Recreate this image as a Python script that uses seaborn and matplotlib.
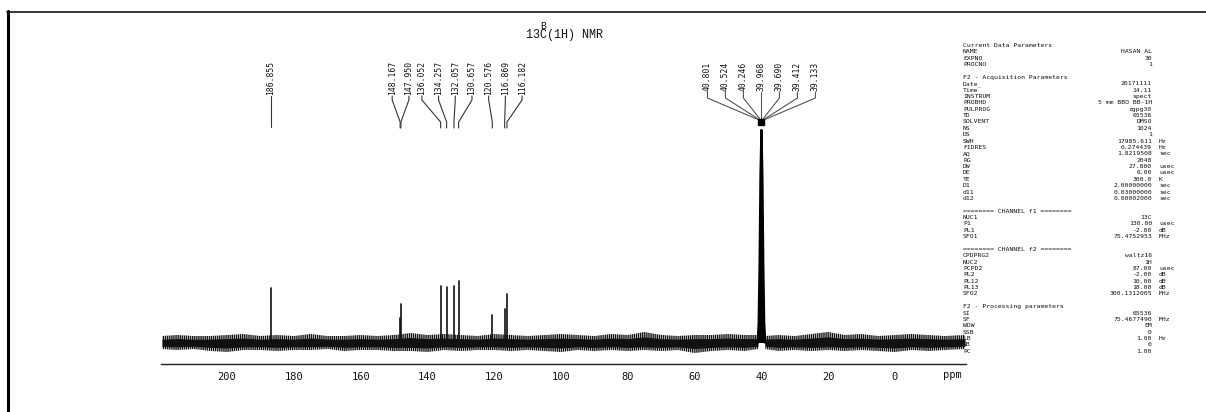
import matplotlib
matplotlib.use("Agg")
import matplotlib.pyplot as plt
import seaborn as sns
import pandas as pd
from matplotlib import font_manager
from matplotlib.lines import Line2D

# ---------------- data ----------------
peak_ppm = [186.855, 148.167, 147.950, 136.052, 134.257, 132.057, 130.657,
            120.576, 116.869, 116.182]
peak_height = [55, 25, 39, 57, 56, 57, 62, 28, 34, 49]
peak_group = [0, 1, 1, 2, 2, 2, 2, 2, 2, 2]

solvent_ppm = [40.801, 40.524, 40.246, 39.968, 39.690, 39.412, 39.133]
solvent_height = [20, 80, 170, 213, 170, 80, 20]

noise_left_ppm = [219.5, 215, 210, 205, 200, 195, 190, 185, 180, 175, 170, 165,
                  160, 155, 150, 145, 140, 135, 130, 125, 120, 115, 110, 105,
                  100, 95, 90, 85, 80, 75, 70, 65, 60, 55, 50, 45, 41]
noise_left_upper = [7, 8, 7, 7, 8, 9, 7, 8, 7, 9, 7, 7, 8, 7, 8, 10, 8, 9, 8, 7,
                    9, 8, 7, 8, 9, 8, 7, 9, 8, 11, 8, 7, 8, 8, 9, 8, 8]
noise_left_lower = [-6, -7, -6, -8, -9, -7, -7, -8, -7, -7, -6, -8, -7, -7, -8,
                    -8, -9, -7, -8, -7, -7, -8, -7, -8, -9, -7, -8, -7, -8, -7,
                    -8, -7, -10, -8, -7, -8, -6]
noise_right_ppm = [38.8, 35, 30, 25, 20, 15, 10, 5, 0, -5, -10, -15, -21]
noise_right_upper = [7, 8, 7, 9, 11, 8, 9, 7, 8, 9, 8, 7, 8]
noise_right_lower = [-6, -8, -7, -8, -7, -8, -7, -8, -9, -7, -8, -7, -6]

major_ticks = [200, 180, 160, 140, 120, 100, 80, 60, 40, 20, 0]
minor_ticks = [210, 190, 170, 150, 130, 110, 90, 70, 50, 30, 10, -10]

title_top = "B"
title_main = "13C(1H) NMR"

param_lines = [
    ("Current Data Parameters", None, None),
    ("NAME", "HASAN AL", None),
    ("EXPNO", "30", None),
    ("PROCNO", "1", None),
    None,
    ("F2 - Acquisition Parameters", None, None),
    ("Date_", "20171111", None),
    ("Time", "14.11", None),
    ("INSTRUM", "spect", None),
    ("PROBHD", "5 mm BBO BB-1H", None),
    ("PULPROG", "zgpg30", None),
    ("TD", "65536", None),
    ("SOLVENT", "DMSO", None),
    ("NS", "1024", None),
    ("DS", "1", None),
    ("SWH", "17985.611", "Hz"),
    ("FIDRES", "0.274439", "Hz"),
    ("AQ", "1.8219508", "sec"),
    ("RG", "2048", None),
    ("DW", "27.800", "usec"),
    ("DE", "6.00", "usec"),
    ("TE", "300.0", "K"),
    ("D1", "2.00000000", "sec"),
    ("d11", "0.03000000", "sec"),
    ("d12", "0.00002000", "sec"),
    None,
    ("======== CHANNEL f1 ========", None, None),
    ("NUC1", "13C", None),
    ("P1", "130.00", "usec"),
    ("PL1", "-2.00", "dB"),
    ("SFO1", "75.4752953", "MHz"),
    None,
    ("======== CHANNEL f2 ========", None, None),
    ("CPDPRG2", "waltz16", None),
    ("NUC2", "1H", None),
    ("PCPD2", "87.00", "usec"),
    ("PL2", "-2.00", "dB"),
    ("PL12", "10.00", "dB"),
    ("PL13", "18.00", "dB"),
    ("SFO2", "300.1312005", "MHz"),
    None,
    ("F2 - Processing parameters", None, None),
    ("SI", "65536", None),
    ("SF", "75.4677490", "MHz"),
    ("WDW", "EM", None),
    ("SSB", "0", None),
    ("LB", "1.00", "Hz"),
    ("GB", "0", None),
    ("PC", "1.00", None),
]

# ---------------- style ----------------
sns.set_theme(style="white")
avail = {f.name for f in font_manager.fontManager.ttflist}
if "Liberation Sans Narrow" in avail:
    label_font, label_size = "Liberation Sans Narrow", 8.3
else:
    label_font, label_size = "DejaVu Sans Mono", 5.8
mono = "DejaVu Sans Mono"
plt.rcParams["font.family"] = [mono, "DejaVu Sans"]

W, H = 1206, 412
fig = plt.figure(figsize=(W / 100, H / 100), dpi=100)
fig.patch.set_facecolor("white")


def fx(x):
    return x / W


def fy(y):
    return 1 - y / H


ax_left, ax_right, ax_top, ax_bottom = 161, 966, 122, 364
ax = fig.add_axes([fx(ax_left), fy(ax_bottom), (ax_right - ax_left) / W,
                   (ax_bottom - ax_top) / H])
ax.set_facecolor("none")
ax.set_xlim(219.8, -21.3)
ax.set_ylim(-21, 221)

# noise band (solid core + hatched envelope)
for xs, up, lo in [(noise_left_ppm, noise_left_upper, noise_left_lower),
                   (noise_right_ppm, noise_right_upper, noise_right_lower)]:
    ax.fill_between(xs, lo, up, facecolor="none", edgecolor="#111111",
                    hatch="||||||||", linewidth=0)
    ax.fill_between(xs, [v * 0.55 for v in lo], [v * 0.55 for v in up],
                    facecolor="#111111", linewidth=0)

# stick peaks via seaborn
rows = []
for i, (p, h) in enumerate(zip(peak_ppm, peak_height)):
    rows.append({"ppm": p, "intensity": 0, "peak": i})
    rows.append({"ppm": p, "intensity": h, "peak": i})
df = pd.DataFrame(rows)
sns.lineplot(data=df, x="ppm", y="intensity", units="peak", estimator=None,
             sort=False, color="#111111", linewidth=1.2, ax=ax, legend=False)

# solvent septet
sx = [41.1] + solvent_ppm + [38.8]
sy = [0] + solvent_height + [0]
ax.fill(sx, sy, color="#000000", linewidth=0)
sns.lineplot(x=sx, y=sy, sort=False, estimator=None, color="#000000",
             linewidth=1.6, ax=ax)

# axis styling
for s in ["left", "right", "top"]:
    ax.spines[s].set_visible(False)
ax.spines["bottom"].set_color("#222222")
ax.spines["bottom"].set_linewidth(1.0)
ax.spines["bottom"].set_position(("data", -21))
ax.set_yticks([])
ax.set_xticks(major_ticks)
ax.set_xticklabels([str(t) for t in major_ticks])
ax.set_xticks(minor_ticks, minor=True)
ax.tick_params(axis="x", which="major", direction="out", length=3, width=1,
               color="#222222", pad=2.5, labelsize=7.5, labelcolor="#111111")
ax.tick_params(axis="x", which="minor", direction="out", length=1.8, width=1,
               color="#222222")
for lab in ax.get_xticklabels():
    lab.set_family(mono)
ax.set_xlabel("")
ax.set_ylabel("")
ax.text(-17.3, -32, "ppm", ha="center", va="center", fontsize=7.5,
        family=mono, color="#111111", clip_on=False)

# peak labels with connectors
ppm_per_px = 241.1 / 805
line_kw = dict(color="#333333", linewidth=0.8, clip_on=False)
for g in sorted(set(peak_group)):
    idx = [i for i, gg in enumerate(peak_group) if gg == g]
    center = sum(peak_ppm[i] for i in idx) / len(idx)
    spacing = 16.7 * ppm_per_px
    n = len(idx)
    for k, i in enumerate(idx):
        lx = center + ((n - 1) / 2 - k) * spacing
        ax.text(lx, 248, f"{peak_ppm[i]:.3f}", rotation=90, ha="center",
                va="bottom", fontsize=label_size, family=label_font,
                color="#111111", clip_on=False)
        if n == 1:
            ax.plot([lx, lx], [247, 216], **line_kw)
        else:
            ax.plot([lx, lx, peak_ppm[i], peak_ppm[i]], [247, 243, 221, 215],
                    **line_kw)

# solvent labels fan
sc = solvent_ppm[3]
sspacing = 18 * ppm_per_px
for k, p in enumerate(solvent_ppm):
    lx = sc + (3 - k) * sspacing
    ax.text(lx, 252, f"{p:.3f}", rotation=90, ha="center", va="bottom",
            fontsize=label_size, family=label_font, color="#111111",
            clip_on=False)
    ax.plot([lx, lx, sc], [251, 245, 222], color="#555555", linewidth=0.8,
            clip_on=False)
ax.plot([sc], [221], marker="s", markersize=4, color="black", clip_on=False)

# title
fig.text(fx(543), fy(26), title_top, ha="center", va="center", fontsize=7,
         family="Liberation Mono", color="#111111")
fig.text(fx(565), fy(35), title_main, ha="center", va="center", fontsize=8.5,
         family="Liberation Mono", color="#111111")

# parameter block: separate texts, font sized so lines do not collide
slot_y0, slot_dy = 45.5, 6.37
renderer = fig.canvas.get_renderer()
psize = 6.0
while psize > 3.5:
    probe = fig.text(0.5, 0.5, "Current Data Parameters (lp_)", fontsize=psize,
                     family=mono)
    hgt = probe.get_window_extent(renderer).height
    probe.remove()
    if hgt <= slot_dy - 0.4:
        break
    psize -= 0.1

for s, item in enumerate(param_lines):
    if item is None:
        continue
    name, val, unit = item
    y = slot_y0 + s * slot_dy
    fig.text(fx(963), fy(y), name, ha="left", va="center", fontsize=psize,
             family=mono, color="#111111")
    if val is not None:
        fig.text(fx(1152), fy(y), val, ha="right", va="center",
                 fontsize=psize, family=mono, color="#111111")
    if unit is not None:
        fig.text(fx(1159), fy(y), unit, ha="left", va="center",
                 fontsize=psize, family=mono, color="#111111")

# page frame
fig.add_artist(Line2D([fx(7.5), fx(7.5)], [fy(11), fy(412)], linewidth=2.2,
                      color="black", transform=fig.transFigure))
fig.add_artist(Line2D([fx(6.5), fx(1206)], [fy(11.5), fy(11.5)], linewidth=1.1,
                      color="black", transform=fig.transFigure))

fig.savefig("out.png", dpi=100, facecolor="white")
